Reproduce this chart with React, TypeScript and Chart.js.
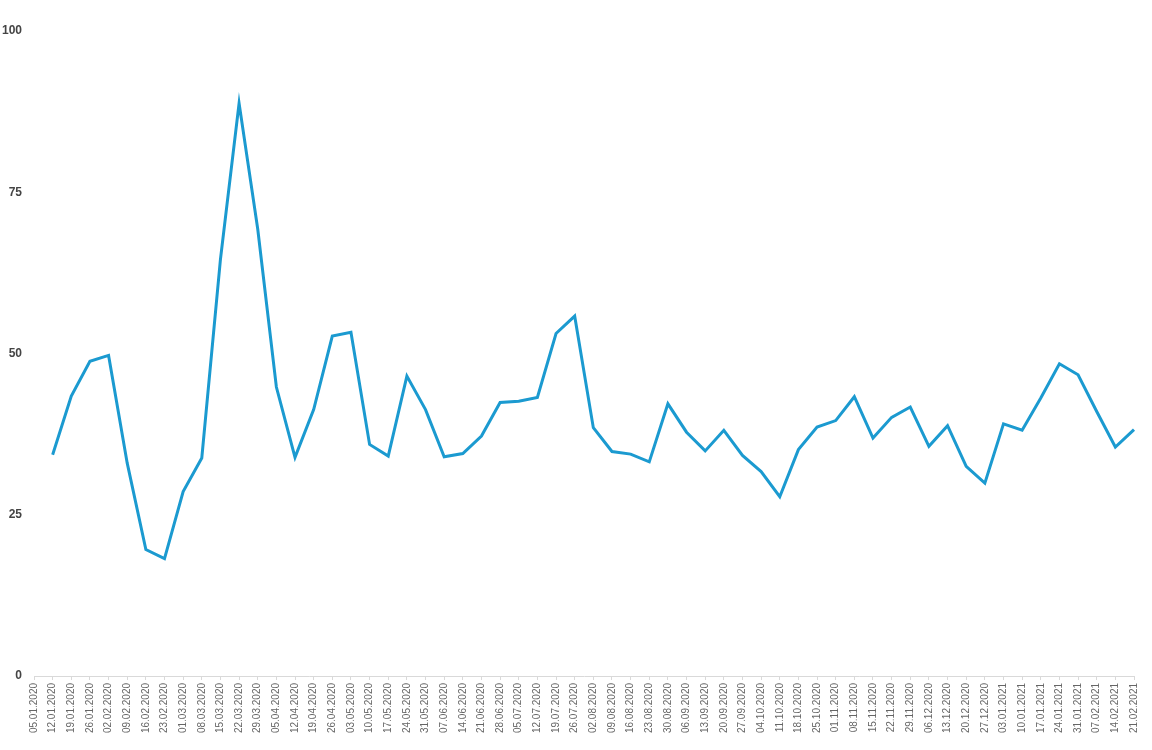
import React, { useEffect, useRef } from "react";
import { Chart, registerables } from "chart.js";

Chart.register(...registerables);

const dateLabels: string[] = [
  "05.01.2020", "12.01.2020", "19.01.2020", "26.01.2020", "02.02.2020", "09.02.2020",
  "16.02.2020", "23.02.2020", "01.03.2020", "08.03.2020", "15.03.2020", "22.03.2020",
  "29.03.2020", "05.04.2020", "12.04.2020", "19.04.2020", "26.04.2020", "03.05.2020",
  "10.05.2020", "17.05.2020", "24.05.2020", "31.05.2020", "07.06.2020", "14.06.2020",
  "21.06.2020", "28.06.2020", "05.07.2020", "12.07.2020", "19.07.2020", "26.07.2020",
  "02.08.2020", "09.08.2020", "16.08.2020", "23.08.2020", "30.08.2020", "06.09.2020",
  "13.09.2020", "20.09.2020", "27.09.2020", "04.10.2020", "11.10.2020", "18.10.2020",
  "25.10.2020", "01.11.2020", "08.11.2020", "15.11.2020", "22.11.2020", "29.11.2020",
  "06.12.2020", "13.12.2020", "20.12.2020", "27.12.2020", "03.01.2021", "10.01.2021",
  "17.01.2021", "24.01.2021", "31.01.2021", "07.02.2021", "14.02.2021", "21.02.2021",
];

const seriesValues: (number | null)[] = [
  null, 34.3, 43.4, 48.8, 49.7, 33.0, 19.6, 18.2, 28.6, 33.8,
  64.6, 88.8, 69.3, 44.8, 33.9, 41.3, 52.7, 53.3, 35.9, 34.1,
  46.5, 41.3, 34.0, 34.5, 37.2, 42.4, 42.6, 43.2, 53.1, 55.8,
  38.5, 34.8, 34.4, 33.2, 42.2, 37.8, 34.9, 38.1, 34.2, 31.7,
  27.8, 35.1, 38.6, 39.6, 43.3, 36.9, 40.1, 41.7, 35.6, 38.8,
  32.5, 29.9, 39.1, 38.1, 43.1, 48.4, 46.7, 41.0, 35.5, 38.2,
];

const yTicks: number[] = [0, 25, 50, 75, 100];

const FONT = "'Liberation Sans', Arial, sans-serif";

export default function App() {
  const canvasRef = useRef<HTMLCanvasElement | null>(null);

  useEffect(() => {
    if (!canvasRef.current) return;
    const chart = new Chart(canvasRef.current, {
      type: "line",
      data: {
        labels: dateLabels,
        datasets: [
          {
            data: seriesValues,
            borderColor: "#1b9ad0",
            borderWidth: 3,
            pointRadius: 0,
            pointHoverRadius: 0,
            tension: 0,
            fill: false,
          },
        ],
      },
      options: {
        animation: false,
        responsive: false,
        maintainAspectRatio: false,
        layout: { padding: { left: 0, right: 18, top: 31, bottom: 0 } },
        plugins: {
          legend: { display: false },
          tooltip: { enabled: false },
          title: { display: false },
        },
        scales: {
          x: {
            offset: false,
            grid: {
              display: true,
              drawOnChartArea: false,
              drawTicks: true,
              tickLength: 4,
              color: "#d9d9d9",
            },
            border: { display: true, color: "#d9d9d9", width: 1 },
            ticks: {
              autoSkip: false,
              maxRotation: 90,
              minRotation: 90,
              padding: 3,
              color: "#666666",
              font: { family: FONT, size: 10 },
            },
            afterFit: (scale: any) => {
              scale.height = 74;
            },
          },
          y: {
            min: 0,
            max: 100,
            afterBuildTicks: (scale: any) => {
              scale.ticks = yTicks.map((v) => ({ value: v }));
            },
            grid: { display: false, drawTicks: false },
            border: { display: false },
            ticks: {
              padding: 12,
              color: "#444444",
              font: { family: FONT, size: 12, weight: "bold" },
            },
            afterFit: (scale: any) => {
              scale.width = 34;
            },
          },
        },
      },
    });
    return () => chart.destroy();
  }, []);

  return (
    <div style={{ position: "fixed", left: 0, top: 0, width: 1152, height: 750, background: "#ffffff" }}>
      <canvas ref={canvasRef} width={1152} height={750} style={{ width: 1152, height: 750, display: "block" }} />
    </div>
  );
}
